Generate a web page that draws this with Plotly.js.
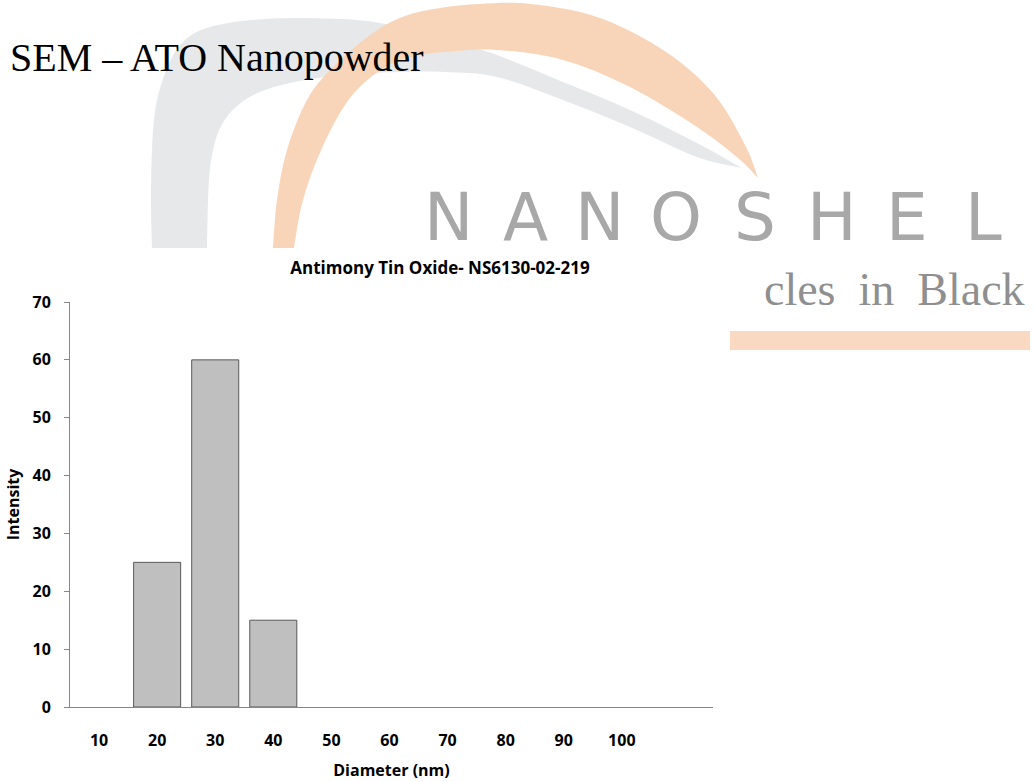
<!DOCTYPE html>
<html>
<head>
<meta charset="utf-8">
<script src="https://cdn.plot.ly/plotly-3.0.1.min.js"></script>
<style>
  html, body { margin: 0; padding: 0; background: #ffffff; }
  #chart { width: 1035px; height: 782px; }
</style>
</head>
<body>
<div id="chart"></div>
<script>
// ---- data ----
const diameters = [10, 20, 30, 40, 50, 60, 70, 80, 90, 100];
const intensity = [0, 25, 60, 15, 0, 0, 0, 0, 0, 0];
const tickLabels = ["10", "20", "30", "40", "50", "60", "70", "80", "90", "100"];
const yTicks = [0, 10, 20, 30, 40, 50, 60, 70];

const chartTitle = "Antimony Tin Oxide- NS6130-02-219";
const xTitle = "Diameter (nm)";
const yTitle = "Intensity";
const pageHeading = "SEM \u2013 ATO Nanopowder";
const logoLetters = ["N", "A", "N", "O", "S", "H", "E", "L"];
const logoTagline = "cles\u00a0\u00a0in\u00a0\u00a0Black";

// ---- geometry helpers (pixel -> paper) ----
const W = 1035, H = 782;
const M = { l: 70, r: 322, t: 302, b: 75 };
const PW = W - M.l - M.r, PH = H - M.t - M.b;
const px = x => (x - M.l) / PW;
const py = y => (H - M.b - y) / PH;
const pt = p => `${px(p[0])},${py(p[1])}`;

function spline(pts) {
  // open Catmull-Rom through pixel points -> cubic segments (no initial M)
  let d = "";
  const n = pts.length;
  for (let i = 0; i < n - 1; i++) {
    const p0 = pts[Math.max(i - 1, 0)], p1 = pts[i], p2 = pts[i + 1], p3 = pts[Math.min(i + 2, n - 1)];
    const c1 = [p1[0] + (p2[0] - p0[0]) / 6, p1[1] + (p2[1] - p0[1]) / 6];
    const c2 = [p2[0] - (p3[0] - p1[0]) / 6, p2[1] - (p3[1] - p1[1]) / 6];
    d += ` C${pt(c1)} ${pt(c2)} ${pt(p2)}`;
  }
  return d;
}
function crescent(outer, inner) {
  return `M${pt(outer[0])}` + spline(outer) + ` L${pt(inner[0])}` + spline(inner) + " Z";
}

const grayOuter = [[152,248],[151,200],[152,150],[155,112],[162,82],[175,52],[193,34],[218,25],
  [252,20],[300,18],[367,21],[420,32],[460,44],[497,55],[563,82],[630,110],[697,143],[742,168]];
const grayInner = [[742,168],[697,157],[630,127],[563,100],[497,77],[445,72],[400,72],[350,74],
  [318,78],[290,83],[262,91],[242,102],[226,118],[215,142],[209,180],[207,248]];
const orangeOuter = [[273,248],[277,200],[287,150],[307,100],[333,67],[373,33],[405,16],
  [440,8],[480,4],[530,4],[597,17],[663,50],[713,93],[745,145],[758,178]];
const orangeInner = [[758,178],[738,158],[697,127],[630,87],[563,60],[497,50],[445,52],
  [415,56],[385,67],[350,98],[322,148],[303,200],[294,248]];

const shapes = [
  { type: "path", xref: "paper", yref: "paper", layer: "below",
    path: crescent(grayOuter, grayInner), fillcolor: "#e7e8ea", line: { width: 0 } },
  { type: "path", xref: "paper", yref: "paper", layer: "below",
    path: crescent(orangeOuter, orangeInner), fillcolor: "#f8d4b8", line: { width: 0 } },
  { type: "rect", xref: "paper", yref: "paper", layer: "below",
    x0: px(730), x1: px(1030), y0: py(350), y1: py(331),
    fillcolor: "#f9d9c2", line: { width: 0 } }
];

const letterCenters = [448, 525, 599, 676, 755, 832, 907, 983];
const annotations = logoLetters.map((ch, i) => ({
  xref: "paper", yref: "paper", x: px(letterCenters[i]), y: py(218),
  xanchor: "center", yanchor: "middle", showarrow: false, text: ch,
  font: { family: "'DejaVu Sans', sans-serif", size: 66, weight: 400, color: "#a8a8a8" }
}));
annotations.push({
  xref: "paper", yref: "paper", x: px(1027), y: py(289), xanchor: "right", yanchor: "middle",
  showarrow: false, text: logoTagline,
  font: { family: "'Liberation Serif', 'DejaVu Serif', serif", size: 46, color: "#8f8f8f" }
});
annotations.push({
  xref: "paper", yref: "paper", x: px(8), y: py(57), xanchor: "left", yanchor: "middle",
  showarrow: false, text: pageHeading,
  font: { family: "'Liberation Serif', 'DejaVu Serif', serif", size: 40, color: "#000000" }
});

const axisFont = { family: "'Open Sans', 'Noto Sans', sans-serif", size: 16, weight: 700, color: "#000000" };

const trace = {
  type: "bar",
  x: diameters,
  y: intensity,
  width: 8.1,
  marker: {
    color: "#bfbfbf",
    line: { color: "#595959", width: intensity.map(v => (v > 0 ? 1 : 0)) }
  },
  hoverinfo: "x+y"
};

const layout = {
  width: W, height: H,
  margin: M,
  paper_bgcolor: "rgba(0,0,0,0)",
  plot_bgcolor: "rgba(0,0,0,0)",
  showlegend: false,
  title: {
    text: chartTitle, xref: "container", yref: "container",
    x: 440 / W, y: 1 - 268 / H, xanchor: "center", yanchor: "middle",
    font: { family: "'Open Sans', 'Noto Sans', sans-serif", size: 17, weight: 700, color: "#000000" }
  },
  xaxis: {
    range: [5, 115.7], tickmode: "array", tickvals: diameters, ticktext: tickLabels,
    showline: true, linecolor: "#868686", linewidth: 1, ticks: "", showgrid: false, zeroline: false,
    tickfont: axisFont, ticklabelstandoff: 19,
    title: { text: xTitle, font: axisFont, standoff: 14 }
  },
  yaxis: {
    range: [0, 70], tickmode: "array", tickvals: yTicks,
    showline: true, linecolor: "#868686", linewidth: 1, ticks: "outside", ticklen: 5,
    tickcolor: "#868686", showgrid: false, zeroline: false,
    tickfont: axisFont, ticklabelstandoff: 10,
    title: { text: yTitle, font: axisFont, standoff: 8 }
  },
  shapes: shapes,
  annotations: annotations
};

Plotly.newPlot("chart", [trace], layout, { displayModeBar: false, staticPlot: true });
</script>
</body>
</html>
